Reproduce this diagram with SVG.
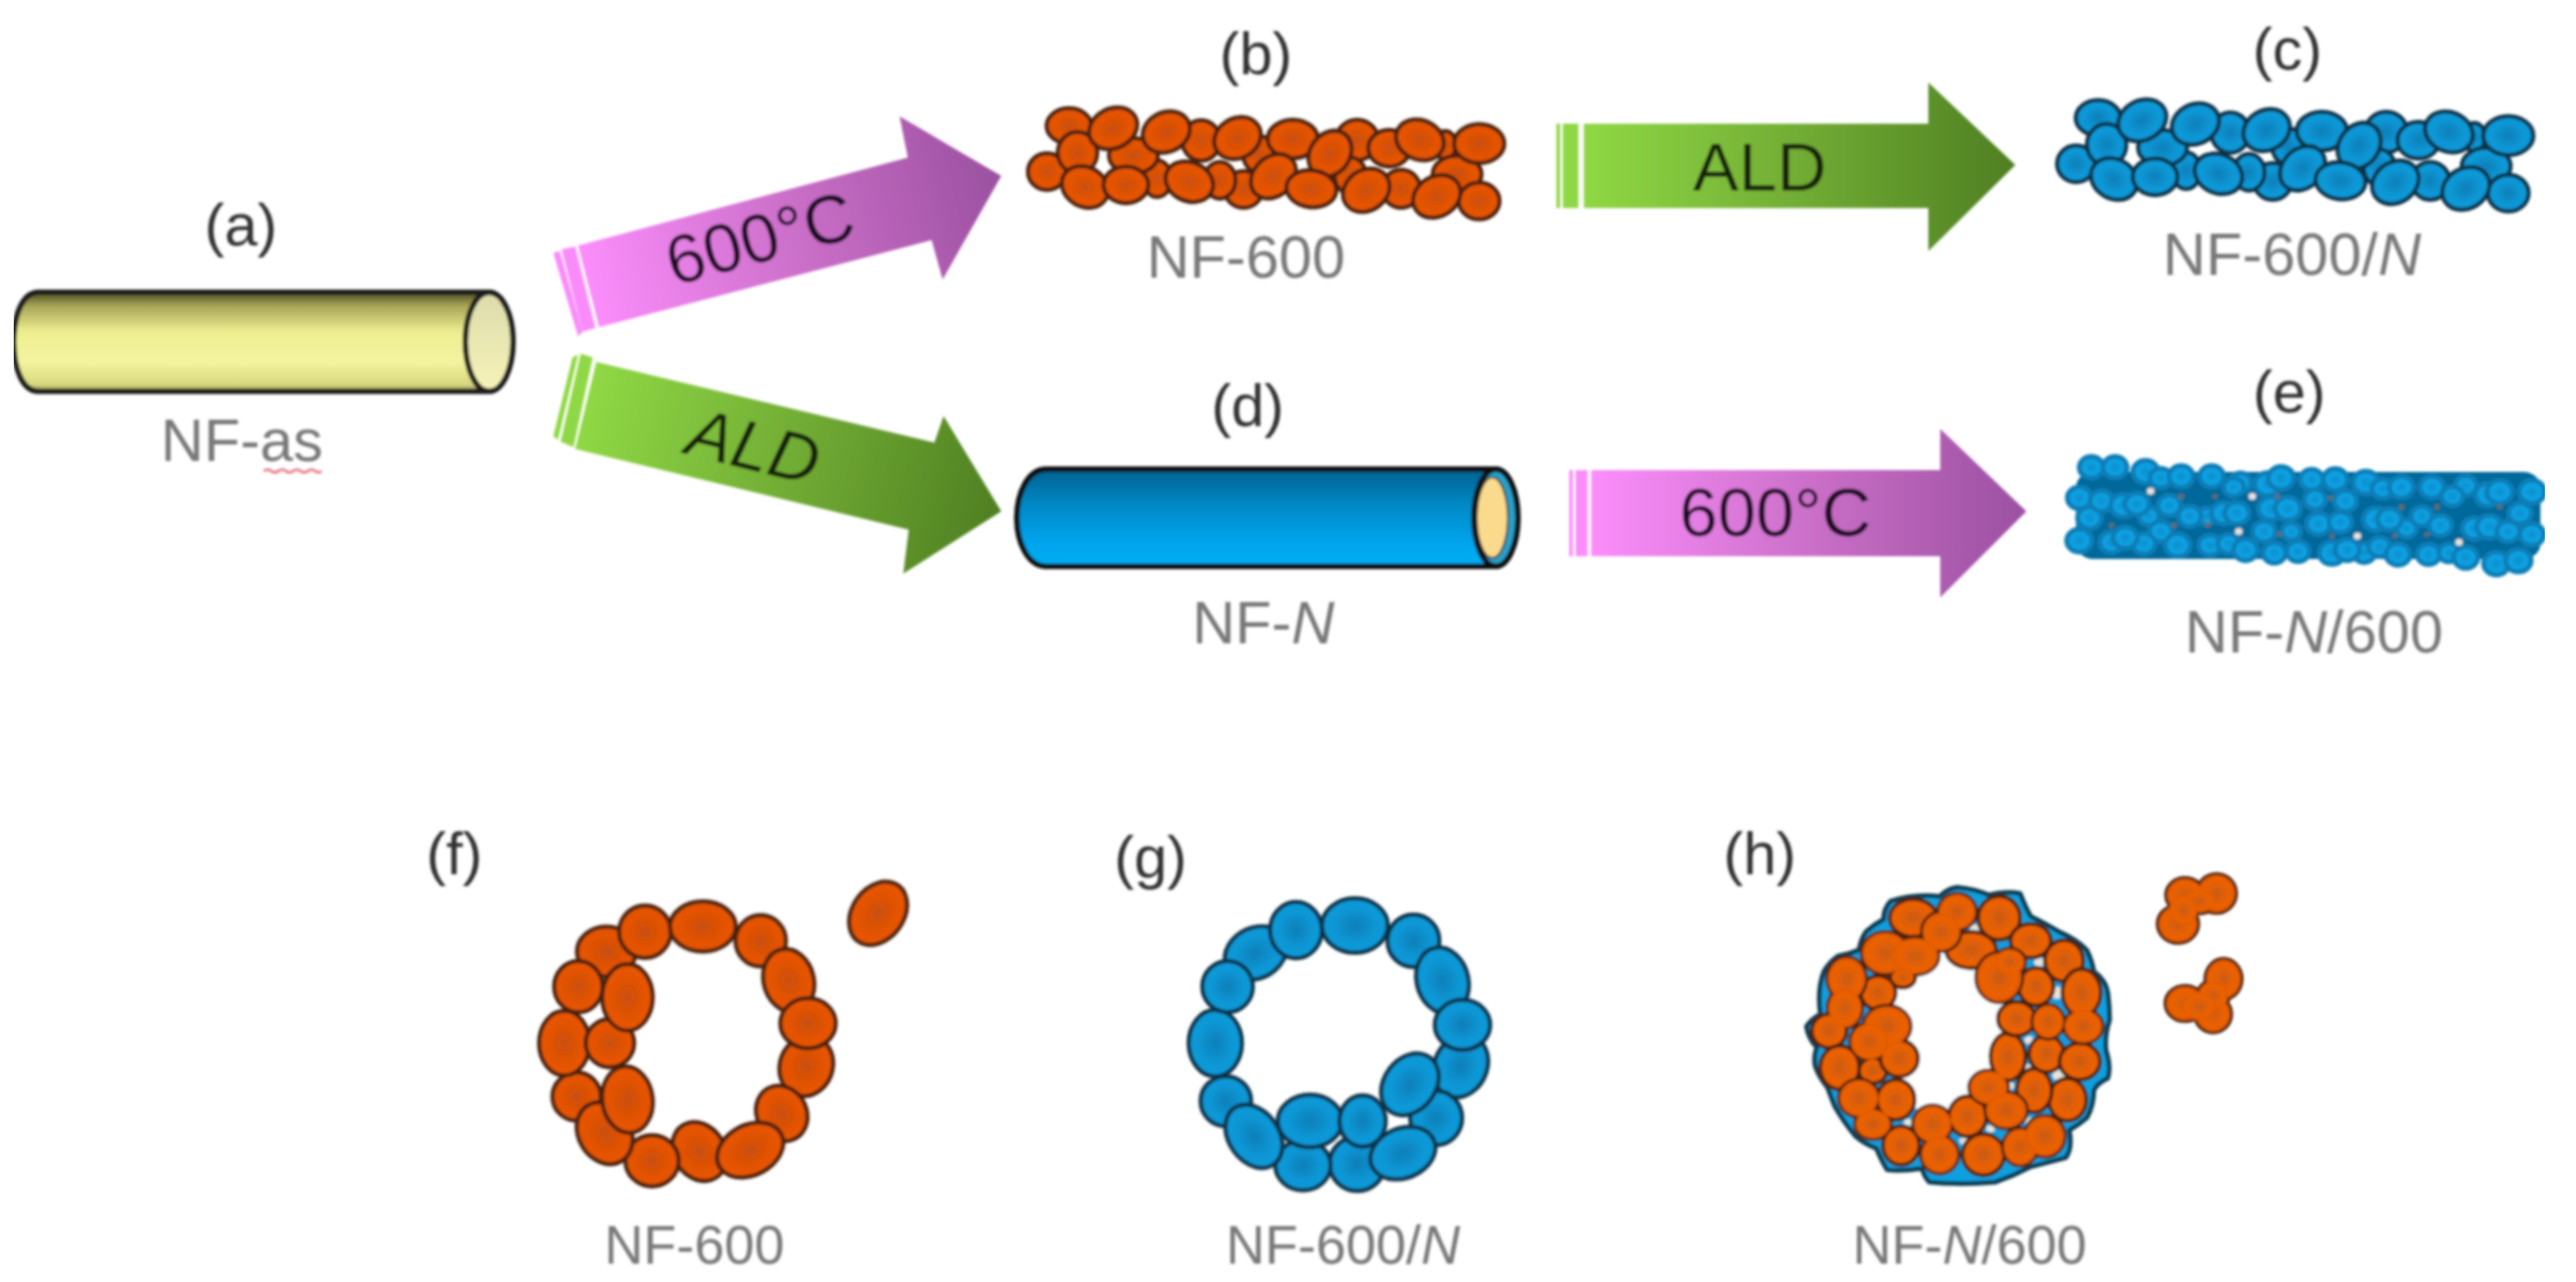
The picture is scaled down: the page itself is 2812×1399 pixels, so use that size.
<svg xmlns="http://www.w3.org/2000/svg" width="2812" height="1399" viewBox="0 0 2812 1399">
<style>
text{font-family:"Liberation Sans",Arial,sans-serif}
.tag{font-size:65px;fill:#333;text-anchor:middle}
.name{font-size:65px;fill:#787878;text-anchor:middle}
.nameS{font-size:59px;fill:#787878;text-anchor:middle}
.arrowtxt{font-size:75px;fill:#1c1024;text-anchor:middle}
.greentxt{font-size:75px;fill:#15200c;text-anchor:middle}
.i{font-style:italic}
.orange{fill:url(#beadO);stroke:#4a2210}
.blue{fill:url(#beadB);stroke:#0b3047}
#strand ellipse,.orange ellipse,.blue ellipse{stroke-width:4.5;vector-effect:non-scaling-stroke}
.hb ellipse{fill:url(#beadH);stroke:#4a2210;stroke-width:4;vector-effect:non-scaling-stroke}
.hf ellipse{fill:url(#beadH);stroke:none}
.gap circle{fill:#e8e4dc}
.dk circle{fill:#6b6a60}
.e circle{fill:url(#beadE);stroke:#0a7db5;stroke-width:5;vector-effect:non-scaling-stroke}
</style>
<defs>
<filter id="soft" x="0" y="0" width="100%" height="100%"><feGaussianBlur stdDeviation="1.5"/></filter>
<radialGradient id="beadO"><stop offset="0" stop-color="#c9500e"/><stop offset=".6" stop-color="#e25200"/><stop offset="1" stop-color="#ea5600"/></radialGradient>
<radialGradient id="beadB"><stop offset="0" stop-color="#0a7fb8"/><stop offset=".65" stop-color="#0b97d6"/><stop offset="1" stop-color="#0b9ad8"/></radialGradient>
<radialGradient id="beadH"><stop offset="0" stop-color="#c95a14"/><stop offset=".7" stop-color="#ec6200"/><stop offset="1" stop-color="#e05a02"/></radialGradient>
<radialGradient id="beadE"><stop offset="0" stop-color="#0a8dca"/><stop offset=".65" stop-color="#0aa3e6"/><stop offset="1" stop-color="#0a90cc"/></radialGradient>
<linearGradient id="pink1" gradientUnits="userSpaceOnUse" x1="640" y1="310" x2="1093" y2="192"><stop offset="0" stop-color="#fb8dfb"/><stop offset=".55" stop-color="#c66cc4"/><stop offset="1" stop-color="#9b50a0"/></linearGradient>
<linearGradient id="pink2" gradientUnits="userSpaceOnUse" x1="1737" y1="0" x2="2212" y2="0"><stop offset="0" stop-color="#fb8dfb"/><stop offset=".55" stop-color="#c66cc4"/><stop offset="1" stop-color="#9b50a0"/></linearGradient>
<linearGradient id="green1" gradientUnits="userSpaceOnUse" x1="640" y1="440" x2="1093" y2="558"><stop offset="0" stop-color="#8fd844"/><stop offset=".5" stop-color="#71ac34"/><stop offset="1" stop-color="#4f7f22"/></linearGradient>
<linearGradient id="green2" gradientUnits="userSpaceOnUse" x1="1729" y1="0" x2="2200" y2="0"><stop offset="0" stop-color="#8fd844"/><stop offset=".5" stop-color="#71ac34"/><stop offset="1" stop-color="#4f7f22"/></linearGradient>
<linearGradient id="tubeY" x1="0" y1="0" x2="0" y2="1"><stop offset="0" stop-color="#4d4b20"/><stop offset=".14" stop-color="#a8a658"/><stop offset=".4" stop-color="#eeee90"/><stop offset=".7" stop-color="#f4f4a0"/><stop offset=".93" stop-color="#d8d880"/><stop offset="1" stop-color="#8e8c4c"/></linearGradient>
<linearGradient id="capY" x1="0" y1="0" x2="0" y2="1"><stop offset="0" stop-color="#dcdcac"/><stop offset="1" stop-color="#f6f2b8"/></linearGradient>
<linearGradient id="tubeB" x1="0" y1="0" x2="0" y2="1"><stop offset="0" stop-color="#04608e"/><stop offset=".35" stop-color="#0087c4"/><stop offset=".75" stop-color="#00a4ec"/><stop offset="1" stop-color="#00adf5"/></linearGradient>
<g id="strand">
<ellipse cx="235" cy="112" rx="66" ry="58"/><ellipse cx="495" cy="285" rx="42" ry="60"/><ellipse cx="170" cy="262" rx="56" ry="60"/><ellipse cx="625" cy="160" rx="56" ry="66"/><ellipse cx="795" cy="205" rx="46" ry="60"/><ellipse cx="1085" cy="158" rx="62" ry="66"/><ellipse cx="1180" cy="185" rx="62" ry="60"/><ellipse cx="1345" cy="175" rx="32" ry="46"/><ellipse cx="1380" cy="270" rx="72" ry="60"/><ellipse cx="1445" cy="358" rx="60" ry="60"/><ellipse cx="1065" cy="275" rx="46" ry="60"/><ellipse cx="750" cy="320" rx="56" ry="60"/><ellipse cx="680" cy="290" rx="46" ry="60"/><ellipse cx="1215" cy="318" rx="56" ry="62"/><ellipse cx="425" cy="210" rx="72" ry="58"/><ellipse cx="260" cy="200" rx="58" ry="68"/>
<ellipse cx="365" cy="120" rx="76" ry="63" transform="rotate(-40 365 120)"/><ellipse cx="522" cy="132" rx="74" ry="63" transform="rotate(-40 522 132)"/><ellipse cx="732" cy="152" rx="74" ry="63" transform="rotate(-45 732 152)"/><ellipse cx="895" cy="155" rx="74" ry="63"/><ellipse cx="1005" cy="203" rx="78" ry="60" transform="rotate(-65 1005 203)"/><ellipse cx="1270" cy="158" rx="74" ry="63" transform="rotate(35 1270 158)"/><ellipse cx="1445" cy="170" rx="74" ry="64"/><ellipse cx="282" cy="312" rx="74" ry="62" transform="rotate(45 282 312)"/><ellipse cx="403" cy="305" rx="66" ry="60"/><ellipse cx="590" cy="295" rx="74" ry="62" transform="rotate(35 590 295)"/><ellipse cx="838" cy="277" rx="78" ry="60" transform="rotate(-55 838 277)"/><ellipse cx="950" cy="318" rx="74" ry="60" transform="rotate(10 950 318)"/><ellipse cx="1112" cy="323" rx="76" ry="63" transform="rotate(-50 1112 323)"/><ellipse cx="1320" cy="343" rx="76" ry="63" transform="rotate(-45 1320 343)"/>
</g>
</defs>
<rect width="2812" height="1399" fill="#fff"/>
<g filter="url(#soft)">
<g id="connectors">
<g id="arrow-a-b">
<polygon points="604,276 611,274 636,362 631,367" fill="#f98bf9"/><polygon points="613,272 628,269 650,358 636,362" fill="#f98bf9"/>
<polygon points="631,268 991,172 982,127 1093,192 1029,305 1017,262 654,357" fill="url(#pink1)"/>
<text class="arrowtxt" transform="translate(829 259) rotate(-15)" y="27">600°C</text>
</g>
<g id="arrow-a-d">
<polygon points="625,390 631,387 609,480 604,476" fill="#8fd844"/><polygon points="634,386 647,390 626,488 612,482" fill="#8fd844"/>
<polygon points="651,395 1020,483 1030,454 1093,558 986,626 992,578 628,490" fill="url(#green1)"/>
<text class="greentxt i" transform="translate(823 486) rotate(14)" y="27">ALD</text>
</g>
<g id="arrow-b-c">
<rect x="1699" y="135" width="4" height="92" fill="#8fd844"/><rect x="1706" y="135" width="17" height="92" fill="#8fd844"/>
<polygon points="1729,135 2105,135 2105,90 2200,180 2105,274 2105,227 1729,227" fill="url(#green2)"/>
<text class="greentxt" x="1921" y="208">ALD</text>
</g>
<g id="arrow-d-e">
<rect x="1713" y="513" width="4" height="94" fill="#fb8dfb"/><rect x="1720" y="513" width="13" height="94" fill="#fb8dfb"/>
<polygon points="1737,513 2118,513 2118,468 2212,558 2118,652 2118,607 1737,607" fill="url(#pink2)"/>
<text class="arrowtxt" x="1938" y="585">600°C</text>
</g>
</g>

<g id="node-a">
<path d="M534,319 H42 C24,319 15,345 15,373 C15,401 24,427 42,427 H534 Z" fill="url(#tubeY)" stroke="#1a1a1a" stroke-width="6"/>
<ellipse cx="534" cy="373" rx="26" ry="54" fill="url(#capY)" stroke="#1a1a1a" stroke-width="6"/>
<text class="tag" x="263" y="268">(a)</text>
<text class="name" x="264" y="503">NF-as</text>
<path d="M288,514 q4,-3 8,0 t8,0 t8,0 t8,0 t8,0 t8,0 t8,0 t7,0" fill="none" stroke="#e8808a" stroke-width="3"/>
</g>

<g id="node-b">
<g class="orange"><use href="#strand" transform="translate(1080 100) scale(.37 .3333)"/></g>
<text class="tag" x="1371" y="81">(b)</text>
<text class="name" x="1360" y="303">NF-600</text>
</g>

<g id="node-c">
<g class="blue"><use href="#strand" transform="translate(2203.4 91.3) scale(.37 .3333)"/></g>
<text class="tag" x="2497" y="76">(c)</text>
<text class="name" x="2502" y="300">NF-600/<tspan class="i">N</tspan></text>
</g>

<g id="node-d">
<path d="M1633,512 H1142 C1122,512 1110,538 1110,565 C1110,592 1122,618 1142,618 H1633 Z" fill="url(#tubeB)" stroke="#111" stroke-width="6"/>
<ellipse cx="1633" cy="565" rx="24" ry="53" fill="#2a9fc8" stroke="#111" stroke-width="6"/>
<ellipse cx="1629" cy="565" rx="17" ry="44" fill="#fada8c" stroke="#333" stroke-width="2"/>
<text class="tag" x="1362" y="465">(d)</text>
<text class="name" x="1379" y="702">NF-<tspan class="i">N</tspan></text>
</g>

<g id="node-e">
<g transform="translate(2220 420) scale(.37 .3333)">
<rect x="125" y="285" width="1370" height="285" rx="50" fill="#05689a"/>
<g class="e">
<circle cx="165" cy="435" r="36"/><circle cx="340" cy="430" r="30"/><circle cx="375" cy="480" r="34"/><circle cx="510" cy="430" r="28"/><circle cx="680" cy="480" r="34"/><circle cx="760" cy="480" r="28"/><circle cx="1100" cy="470" r="30"/><circle cx="1435" cy="420" r="34"/><circle cx="1470" cy="490" r="36"/><circle cx="610" cy="320" r="32"/><circle cx="1275" cy="330" r="32"/><circle cx="975" cy="550" r="32"/><circle cx="325" cy="520" r="34"/><circle cx="1020" cy="530" r="32"/>
<circle cx="170" cy="270" r="36"/><circle cx="240" cy="270" r="36"/><circle cx="330" cy="285" r="38"/><circle cx="375" cy="305" r="32"/><circle cx="435" cy="300" r="36"/><circle cx="525" cy="300" r="36"/><circle cx="590" cy="335" r="30"/><circle cx="690" cy="325" r="38"/><circle cx="730" cy="305" r="38"/><circle cx="820" cy="310" r="34"/><circle cx="890" cy="310" r="36"/><circle cx="980" cy="320" r="38"/><circle cx="1030" cy="340" r="32"/><circle cx="1085" cy="335" r="36"/><circle cx="1175" cy="335" r="36"/><circle cx="1235" cy="365" r="32"/><circle cx="1340" cy="360" r="38"/><circle cx="1375" cy="350" r="38"/><circle cx="1470" cy="350" r="38"/>
<circle cx="135" cy="370" r="36"/><circle cx="200" cy="380" r="34"/><circle cx="265" cy="395" r="38"/><circle cx="305" cy="390" r="36"/><circle cx="400" cy="395" r="34"/><circle cx="460" cy="430" r="34"/><circle cx="560" cy="420" r="36"/><circle cx="600" cy="420" r="36"/><circle cx="700" cy="405" r="38"/><circle cx="750" cy="405" r="38"/><circle cx="830" cy="375" r="32"/><circle cx="920" cy="380" r="34"/><circle cx="1010" cy="440" r="38"/><circle cx="1050" cy="440" r="36"/><circle cx="1145" cy="430" r="32"/><circle cx="1200" cy="460" r="34"/><circle cx="1300" cy="470" r="36"/><circle cx="1345" cy="465" r="38"/><circle cx="1400" cy="480" r="34"/>
<circle cx="840" cy="455" r="36"/><circle cx="905" cy="450" r="34"/>
<circle cx="135" cy="510" r="38"/><circle cx="230" cy="515" r="36"/><circle cx="270" cy="500" r="36"/><circle cx="425" cy="525" r="38"/><circle cx="520" cy="525" r="34"/><circle cx="575" cy="520" r="32"/><circle cx="625" cy="540" r="36"/><circle cx="710" cy="550" r="34"/><circle cx="780" cy="545" r="34"/><circle cx="880" cy="550" r="38"/><circle cx="925" cy="540" r="36"/><circle cx="1075" cy="555" r="36"/><circle cx="1165" cy="555" r="34"/><circle cx="1225" cy="550" r="30"/><circle cx="1275" cy="565" r="36"/><circle cx="1365" cy="585" r="38"/><circle cx="1430" cy="575" r="38"/>
</g>
<g class="gap"><circle cx="345" cy="348" r="11"/><circle cx="645" cy="365" r="11"/><circle cx="605" cy="480" r="11"/><circle cx="955" cy="495" r="11"/><circle cx="1255" cy="515" r="11"/></g>
<g class="dk"><circle cx="230" cy="460" r="7"/><circle cx="435" cy="365" r="8"/><circle cx="535" cy="365" r="7"/><circle cx="415" cy="460" r="8"/><circle cx="515" cy="458" r="8"/><circle cx="720" cy="365" r="7"/><circle cx="725" cy="490" r="7"/><circle cx="880" cy="495" r="7"/><circle cx="1065" cy="495" r="7"/><circle cx="1160" cy="490" r="7"/><circle cx="875" cy="370" r="7"/><circle cx="1085" cy="400" r="8"/><circle cx="1190" cy="400" r="8"/><circle cx="1375" cy="400" r="7"/></g>
</g>
<text class="tag" x="2499" y="450">(e)</text>
<text class="name" x="2526" y="712">NF-<tspan class="i">N</tspan>/600</text>
</g>

<g id="node-f">
<g class="orange" transform="translate(440 880) scale(.3827 .3333)">
<ellipse cx="580" cy="475" rx="84" ry="82"/><ellipse cx="690" cy="410" rx="74" ry="86"/><ellipse cx="855" cy="393" rx="94" ry="82"/><ellipse cx="1020" cy="440" rx="72" ry="84"/><ellipse cx="1100" cy="570" rx="72" ry="104" transform="rotate(-10 1100 570)"/><ellipse cx="1150" cy="850" rx="76" ry="99" transform="rotate(10 1150 850)"/><ellipse cx="1155" cy="710" rx="79" ry="82"/><ellipse cx="1080" cy="1005" rx="72" ry="92" transform="rotate(-15 1080 1005)"/><ellipse cx="845" cy="1130" rx="74" ry="99" transform="rotate(-20 845 1130)"/><ellipse cx="990" cy="1125" rx="104" ry="79" transform="rotate(-40 990 1125)"/><ellipse cx="710" cy="1160" rx="76" ry="84"/><ellipse cx="495" cy="950" rx="69" ry="79"/><ellipse cx="575" cy="1070" rx="76" ry="104" transform="rotate(-20 575 1070)"/><ellipse cx="640" cy="960" rx="72" ry="109" transform="rotate(-5 640 960)"/><ellipse cx="460" cy="775" rx="72" ry="106"/><ellipse cx="590" cy="775" rx="69" ry="79"/><ellipse cx="500" cy="590" rx="69" ry="84"/><ellipse cx="640" cy="625" rx="72" ry="109"/>
<ellipse cx="1355" cy="350" rx="76" ry="109" transform="rotate(25 1355 350)"/>
</g>
<text class="tag" x="496" y="954">(f)</text>
<text class="nameS" x="758" y="1379">NF-600</text>
</g>

<g id="node-g">
<g class="blue" transform="translate(1120 880) scale(.3827 .3333)">
<ellipse cx="655" cy="480" rx="96" ry="79" transform="rotate(-45 655 480)"/><ellipse cx="770" cy="405" rx="74" ry="92"/><ellipse cx="938" cy="390" rx="94" ry="89"/><ellipse cx="1105" cy="440" rx="74" ry="86"/><ellipse cx="1188" cy="570" rx="74" ry="109" transform="rotate(-10 1188 570)"/><ellipse cx="1240" cy="850" rx="76" ry="104" transform="rotate(15 1240 850)"/><ellipse cx="1245" cy="715" rx="79" ry="82"/><ellipse cx="1170" cy="1020" rx="74" ry="89"/><ellipse cx="945" cy="1170" rx="79" ry="89"/><ellipse cx="790" cy="1175" rx="79" ry="82"/><ellipse cx="1075" cy="1135" rx="99" ry="79" transform="rotate(-35 1075 1135)"/><ellipse cx="570" cy="965" rx="72" ry="82"/><ellipse cx="650" cy="1080" rx="74" ry="109" transform="rotate(-25 650 1080)"/><ellipse cx="810" cy="1030" rx="92" ry="86"/><ellipse cx="960" cy="1030" rx="66" ry="84"/><ellipse cx="1095" cy="910" rx="76" ry="106" transform="rotate(25 1095 910)"/><ellipse cx="540" cy="775" rx="76" ry="109"/><ellipse cx="575" cy="590" rx="72" ry="84"/>
</g>
<text class="tag" x="1256" y="958">(g)</text>
<text class="nameS" x="1466" y="1379">NF-600/<tspan class="i">N</tspan></text>
</g>

<g id="node-h">
<g transform="translate(1880 880) scale(.3827 .3333)">
<path d="M480,310 Q550,285 620,295 Q640,270 670,265 Q720,270 760,290 Q810,275 850,285 Q865,330 880,360 Q925,385 960,410 Q1010,435 1040,470 Q1055,505 1060,540 Q1095,570 1100,610 Q1105,655 1105,700 Q1090,750 1095,800 Q1110,850 1100,890 Q1070,905 1060,930 Q1060,980 1040,1020 Q1015,1045 990,1060 Q1000,1120 980,1150 Q930,1165 880,1180 Q830,1210 780,1230 Q680,1240 590,1230 Q575,1210 570,1185 Q515,1195 470,1190 Q450,1150 440,1120 Q405,1105 380,1080 Q345,1030 320,980 Q310,950 300,920 Q275,885 265,850 Q260,815 270,790 Q245,760 240,720 Q255,695 280,680 Q270,600 290,540 Q305,510 330,490 Q360,485 390,470 Q395,435 410,410 Q435,385 460,370 Q460,335 480,310 Z" fill="#0aa0e0" stroke="#113a50" stroke-width="5" stroke-linejoin="round" style="vector-effect:non-scaling-stroke"/>
<ellipse cx="650" cy="735" rx="190" ry="295" fill="#fff"/>
<g class="gap"><circle cx="720" cy="400" r="14"/><circle cx="905" cy="510" r="15"/><circle cx="955" cy="610" r="20"/><circle cx="875" cy="765" r="13"/><circle cx="870" cy="855" r="11"/><circle cx="960" cy="880" r="18"/><circle cx="820" cy="915" r="13"/><circle cx="875" cy="1030" r="12"/><circle cx="765" cy="1055" r="12"/><circle cx="690" cy="1095" r="13"/><circle cx="530" cy="1035" r="12"/></g>
<g class="hb">
<ellipse cx="545" cy="365" rx="68" ry="62"/><ellipse cx="790" cy="365" rx="60" ry="72"/><ellipse cx="710" cy="470" rx="72" ry="60"/><ellipse cx="880" cy="440" rx="58" ry="56"/><ellipse cx="975" cy="505" rx="55" ry="68"/>
<ellipse cx="670" cy="345" rx="55" ry="60"/><ellipse cx="625" cy="410" rx="56" ry="64"/>
<ellipse cx="465" cy="480" rx="68" ry="70"/><ellipse cx="550" cy="490" rx="68" ry="62"/><ellipse cx="515" cy="560" rx="36" ry="34"/><ellipse cx="445" cy="610" rx="50" ry="56"/>
<ellipse cx="355" cy="565" rx="56" ry="72"/><ellipse cx="350" cy="660" rx="50" ry="66"/><ellipse cx="305" cy="735" rx="50" ry="56"/>
<ellipse cx="470" cy="720" rx="68" ry="68"/><ellipse cx="420" cy="770" rx="56" ry="62"/><ellipse cx="335" cy="855" rx="56" ry="72"/><ellipse cx="430" cy="865" rx="40" ry="42"/><ellipse cx="505" cy="825" rx="54" ry="60"/>
<ellipse cx="390" cy="955" rx="58" ry="62"/><ellipse cx="430" cy="1040" rx="52" ry="50"/><ellipse cx="495" cy="960" rx="54" ry="66"/><ellipse cx="510" cy="1110" rx="52" ry="64"/>
<ellipse cx="600" cy="1040" rx="56" ry="62"/><ellipse cx="620" cy="1140" rx="54" ry="62"/><ellipse cx="700" cy="1015" rx="54" ry="66"/><ellipse cx="745" cy="1140" rx="60" ry="68"/>
<ellipse cx="850" cy="1115" rx="50" ry="62"/><ellipse cx="920" cy="1080" rx="58" ry="68"/><ellipse cx="985" cy="960" rx="54" ry="70"/><ellipse cx="890" cy="930" rx="50" ry="72"/>
<ellipse cx="760" cy="920" rx="56" ry="56"/><ellipse cx="810" cy="995" rx="60" ry="60"/><ellipse cx="815" cy="820" rx="50" ry="78"/><ellipse cx="840" cy="695" rx="54" ry="56"/><ellipse cx="925" cy="810" rx="50" ry="60"/><ellipse cx="1020" cy="835" rx="58" ry="60"/>
<ellipse cx="930" cy="705" rx="46" ry="56"/><ellipse cx="1030" cy="720" rx="56" ry="56"/><ellipse cx="895" cy="590" rx="50" ry="62"/><ellipse cx="790" cy="560" rx="66" ry="82"/><ellipse cx="820" cy="510" rx="45" ry="45"/><ellipse cx="1025" cy="610" rx="55" ry="78"/>
</g>
<g class="hf">
<ellipse cx="670" cy="345" rx="52" ry="57"/><ellipse cx="625" cy="410" rx="53" ry="61"/><ellipse cx="465" cy="480" rx="65" ry="67"/><ellipse cx="550" cy="490" rx="65" ry="59"/><ellipse cx="355" cy="565" rx="53" ry="69"/><ellipse cx="350" cy="660" rx="47" ry="63"/><ellipse cx="470" cy="720" rx="65" ry="65"/><ellipse cx="420" cy="770" rx="53" ry="59"/><ellipse cx="390" cy="955" rx="55" ry="59"/><ellipse cx="430" cy="1040" rx="49" ry="47"/><ellipse cx="600" cy="1040" rx="53" ry="59"/><ellipse cx="620" cy="1140" rx="51" ry="59"/><ellipse cx="850" cy="1115" rx="47" ry="59"/><ellipse cx="920" cy="1080" rx="55" ry="65"/><ellipse cx="760" cy="920" rx="53" ry="53"/><ellipse cx="810" cy="995" rx="57" ry="57"/><ellipse cx="930" cy="705" rx="43" ry="53"/><ellipse cx="1030" cy="720" rx="53" ry="53"/><ellipse cx="790" cy="560" rx="63" ry="79"/><ellipse cx="820" cy="510" rx="42" ry="42"/>
</g>
<g class="hb" id="h-frag-1"><ellipse cx="1410" cy="285" rx="56" ry="64"/><ellipse cx="1320" cy="290" rx="54" ry="56"/><ellipse cx="1300" cy="385" rx="58" ry="62"/><ellipse cx="1360" cy="310" rx="50" ry="40"/></g>
<g class="hf"><ellipse cx="1410" cy="285" rx="53" ry="61"/><ellipse cx="1320" cy="290" rx="51" ry="53"/><ellipse cx="1300" cy="385" rx="55" ry="59"/><ellipse cx="1360" cy="310" rx="47" ry="37"/><ellipse cx="1315" cy="340" rx="40" ry="50"/></g>
<g class="hb" id="h-frag-2"><ellipse cx="1320" cy="645" rx="56" ry="58"/><ellipse cx="1430" cy="565" rx="52" ry="66"/><ellipse cx="1400" cy="680" rx="52" ry="60"/><ellipse cx="1400" cy="620" rx="45" ry="50"/></g>
<g class="hf"><ellipse cx="1320" cy="645" rx="53" ry="55"/><ellipse cx="1430" cy="565" rx="49" ry="63"/><ellipse cx="1400" cy="680" rx="49" ry="57"/><ellipse cx="1400" cy="620" rx="42" ry="47"/><ellipse cx="1360" cy="655" rx="50" ry="45"/></g>
</g>
<text class="tag" x="1921" y="954">(h)</text>
<text class="nameS" x="2150" y="1379">NF-<tspan class="i">N</tspan>/600</text>
</g>
</g>
</svg>
